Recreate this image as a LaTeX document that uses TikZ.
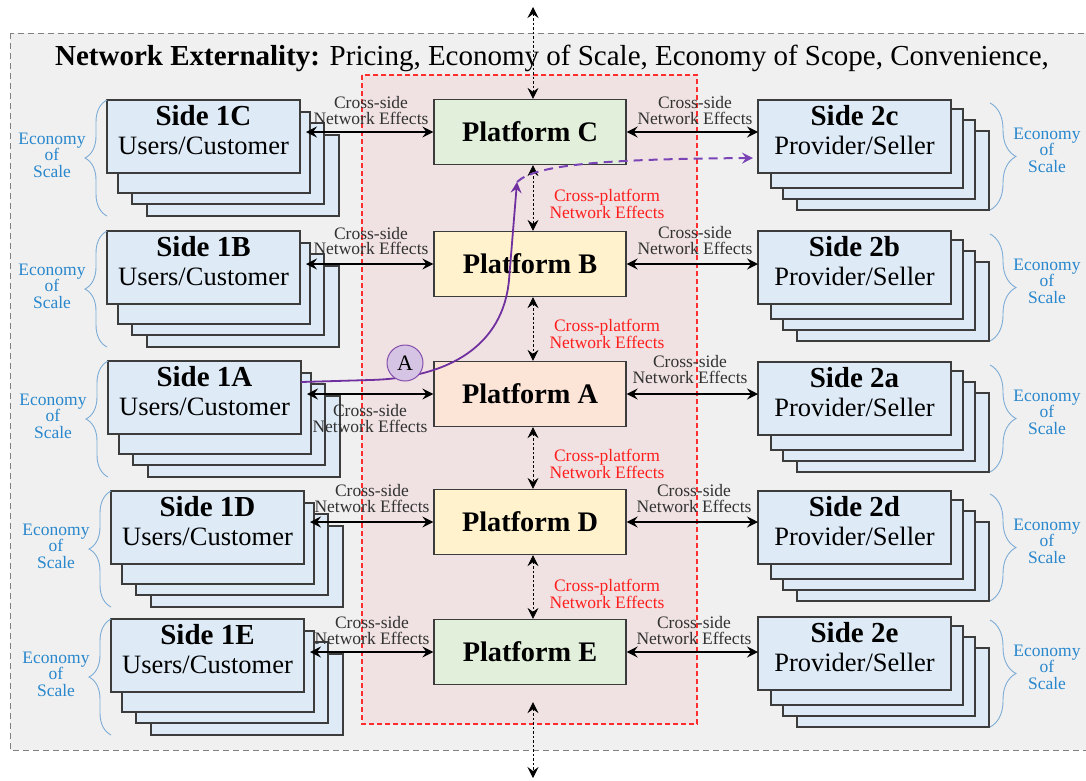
\documentclass[tikz,border=0pt]{standalone}
\usepackage{fontspec}
\setmainfont{Liberation Serif}
\usetikzlibrary{arrows.meta,decorations.pathreplacing,calc}

\definecolor{outerbg}{RGB}{240,240,240}
\definecolor{outerln}{RGB}{128,128,128}
\definecolor{platbg}{RGB}{240,226,226}
\definecolor{platln}{RGB}{255,45,45}
\definecolor{sidebg}{RGB}{222,235,247}
\definecolor{boxln}{RGB}{60,60,60}
\definecolor{pgreen}{RGB}{226,239,218}
\definecolor{pyellow}{RGB}{255,242,204}
\definecolor{ppeach}{RGB}{252,228,214}
\definecolor{cpred}{RGB}{255,30,30}
\definecolor{labgray}{RGB}{50,50,50}
\definecolor{ecoblue}{RGB}{40,135,205}
\definecolor{bracebl}{RGB}{125,172,215}
\definecolor{pathpurple}{RGB}{112,48,160}
\definecolor{dashpurple}{RGB}{122,68,182}
\definecolor{circfill}{RGB}{214,196,228}

\newcommand\sidetitle{\fontsize{29}{29}\selectfont\bfseries}
\newcommand\sidestrut{\rule[-13pt]{0pt}{13pt}}

\tikzset{
  layer/.style={draw=boxln, line width=1.3pt, fill=sidebg, minimum width=192pt,
    minimum height=81pt, inner sep=0pt, outer sep=0pt, anchor=north west},
  rlayer/.style={layer, minimum height=79pt},
  sidebox/.style={layer, minimum width=193pt, minimum height=73pt, align=center,
    font=\fontsize{26.5}{29.5}\selectfont},
  platbox/.style={draw=boxln, line width=1.3pt, minimum width=192pt, minimum height=65pt,
    inner sep=0pt, font=\fontsize{28.3}{30}\selectfont\bfseries},
  xside/.style={<->, line width=1.4pt, black},
  xplat/.style={<->, line width=0.8pt, dash pattern=on 2.5pt off 2pt, black},
  cslabel/.style={align=center, text=labgray, font=\fontsize{17.5}{15.5}\selectfont, inner sep=0pt},
  cplabel/.style={cslabel, text=cpred},
  ecolabel/.style={align=center, text=ecoblue, font=\fontsize{17.5}{16.5}\selectfont, inner sep=0pt},
  ecobrace/.style={draw=bracebl, line width=0.9pt, decorate,
    decoration={brace, amplitude=#1}},
  ecobrace/.default=22pt,
  >={Stealth[length=11pt,width=11pt,inset=4pt]},
}

% customer-side stack: name, x, y (top left of the front sheet), title
\newcommand\leftstack[4]{%
  \node[layer] (#1-4) at (#2+40,#3+35) {};
  \node[layer] (#1-3) at (#2+25,#3+23) {};
  \node[layer] (#1-2) at (#2+11,#3+12) {};
  \node[sidebox] (#1) at (#2,#3) {{\sidetitle #4}\\Users/Customer\sidestrut};
  \draw[ecobrace=22pt] (#1.west |- #1-4.south) -- (#1.north west);
  \node[ecolabel] (#1-eco) at (#2-55,#3+55) {Economy\\of\\Scale};
}

% provider-side stack: name, x, y (top left of the front sheet), title
\newcommand\rightstack[4]{%
  \node[rlayer] (#1-4) at (#2+39,#3+31) {};
  \node[rlayer] (#1-3) at (#2+25,#3+20) {};
  \node[rlayer] (#1-2) at (#2+13,#3+9) {};
  \node[sidebox] (#1) at (#2,#3) {{\sidetitle #4}\\Provider/Seller\sidestrut};
  \draw[ecobrace=26pt] ($(#1-4.east |- #1.north)+(1,3)$) -- ($(#1-4.south east)+(1,0)$);
  \node[ecolabel] (#1-eco) at (#2+289,#3+50) {Economy\\of\\Scale};
}

\begin{document}
\begin{tikzpicture}[x=1pt, y=-1pt]
\useasboundingbox (0,0) rectangle (1086,780);

% outer frame and platform zone
\draw[fill=outerbg, draw=outerln, line width=0.9pt, dash pattern=on 6pt off 4pt]
  (10,33) rectangle (1100,750);
\draw[fill=platbg, draw=platln, line width=1.3pt, dash pattern=on 5pt off 3pt]
  (362,75) rectangle (697,724);

\node[font=\fontsize{29}{29}\selectfont, inner sep=0pt] (title) at (552,58)
  {\textbf{Network Externality:} Pricing, Economy of Scale, Economy of Scope, Convenience,};

% sides
\leftstack{s1C}{107}{100}{Side 1C}
\leftstack{s1B}{107}{231}{Side 1B}
\leftstack{s1A}{108}{361}{Side 1A}
\leftstack{s1D}{111}{491}{Side 1D}
\leftstack{s1E}{111}{619}{Side 1E}

\rightstack{s2c}{758}{100}{Side 2c}
\rightstack{s2b}{758}{231}{Side 2b}
\rightstack{s2a}{758}{362}{Side 2a}
\rightstack{s2d}{758}{491}{Side 2d}
\rightstack{s2e}{758}{617}{Side 2e}

% platforms
\node[platbox, fill=pgreen]  (pC) at (530,132) {Platform C};
\node[platbox, fill=pyellow] (pB) at (530,264) {Platform B};
\node[platbox, fill=ppeach]  (pA) at (530,394) {Platform A};
\node[platbox, fill=pyellow] (pD) at (530,522) {Platform D};
\node[platbox, fill=pgreen]  (pE) at (530,652) {Platform E};

% cross-side links
\foreach \p/\l/\r in {C/1C/2c, B/1B/2b, A/1A/2a, D/1D/2d, E/1E/2e}{
  \draw[xside, shorten >=-4pt] (p\p.west) -- (p\p.west -| s\l-2.east);
  \draw[xside] (p\p.east) -- (p\p.east -| s\r.west);
}

\node[cslabel] (lC) at (371,110.5) {Cross-side\\Network Effects};
\node[cslabel] (rC) at (695,110.5) {Cross-side\\Network Effects};
\node[cslabel] (lB) at (371,241) {Cross-side\\Network Effects};
\node[cslabel] (rB) at (695,240.5) {Cross-side\\Network Effects};
\node[cslabel] (lA) at (370,418.5) {Cross-side\\Network Effects};
\node[cslabel] (rA) at (690,369.5) {Cross-side\\Network Effects};
\node[cslabel] (lD) at (372,498.5) {Cross-side\\Network Effects};
\node[cslabel] (rD) at (694,498.5) {Cross-side\\Network Effects};
\node[cslabel] (lE) at (372,630.5) {Cross-side\\Network Effects};
\node[cslabel] (rE) at (694,630.5) {Cross-side\\Network Effects};

% cross-platform links
\coordinate (vx) at (533,0);
\coordinate (topEnd) at (533,7);
\coordinate (botEnd) at (533,778);
\draw[xplat] (topEnd) -- (pC.north -| vx);
\draw[xplat] (pC.south -| vx) -- (pB.north -| vx);
\draw[xplat] (pB.south -| vx) -- (pA.north -| vx);
\draw[xplat] (pA.south -| vx) -- (pD.north -| vx);
\draw[xplat] (pD.south -| vx) -- (pE.north -| vx);
\draw[xplat, shorten <=17pt] (pE.south -| vx) -- (botEnd);

\node[cplabel] (cpCB) at (607,203.5) {Cross-platform\\Network Effects};
\node[cplabel] (cpBA) at (607,333.5) {Cross-platform\\Network Effects};
\node[cplabel] (cpAD) at (607,463.5) {Cross-platform\\Network Effects};
\node[cplabel] (cpDE) at (607,593.5) {Cross-platform\\Network Effects};

% path A: from Side 1A across platforms to Side 2c
\coordinate (aTurn) at (517,182);
\draw[pathpurple, line width=1.8pt, ->]
  ($(s1A.east)+(0,-15.5)$) -- (370,380)
  .. controls (450,378) and (503,345) .. (509,280) -- (aTurn);
\draw[dashpurple, line width=2pt, dash pattern=on 9pt off 6pt, ->, shorten >=5pt]
  (aTurn) .. controls (535,165) and (600,159) .. ($(s2c.west)+(0,21.5)$);
\node[circle, draw=pathpurple!85, fill=circfill, line width=1pt, minimum size=36pt,
  inner sep=0pt, font=\fontsize{22}{22}\selectfont] (cA) at (405,363) {A};

\end{tikzpicture}
\end{document}
